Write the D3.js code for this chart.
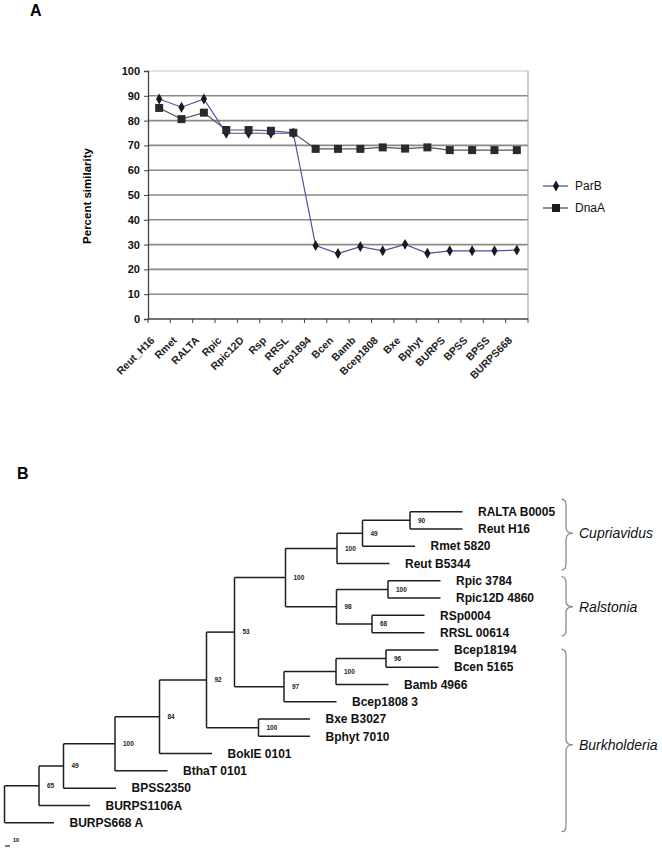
<!DOCTYPE html>
<html><head><meta charset="utf-8">
<script src="https://cdn.jsdelivr.net/npm/d3@7"></script>
<style>
html,body{margin:0;padding:0;background:#fff;}
svg{display:block;font-family:"Liberation Sans",Arial,sans-serif;}
</style></head>
<body>
<svg id="c" width="662" height="852"></svg>
<script>
// ---------- Panel A data ----------
const categories = ["Reut_H16","Rmet","RALTA","Rpic","Rpic12D","Rsp","RRSL","Bcep1894","Bcen","Bamb","Bcep1808","Bxe","Bphyt","BURPS","BPSS","BPSS ","BURPS668"];
const parB = [88.7,85.4,88.7,74.9,74.9,74.9,75.0,29.6,26.4,29.2,27.5,30.1,26.5,27.5,27.5,27.5,27.8];
const dnaA = [85.1,80.6,83.2,76.2,76.2,75.9,75.1,68.6,68.6,68.6,69.2,68.7,69.2,68.1,68.1,68.1,68.1];
const yTicks = [0,10,20,30,40,50,60,70,80,90,100];
const seriesNames = ["ParB","DnaA"];

// ---------- Panel B data (tree) ----------
const nodeIds =    ["root","n65","BURPS668 A","n49","BURPS1106A","n100a","BPSS2350","n84","BthaT 0101","n92","BokIE 0101","n53","n100f","Bxe B3027","Bphyt 7010","n100b","n97","n100c","n98","n49b","Reut B5344","n90","Rmet 5820","RALTA B0005","Reut H16","n100d","n68","Rpic 3784","Rpic12D 4860","RSp0004","RRSL 00614","n100e","Bcep1808 3","n96","Bamb 4966","Bcep18194","Bcen 5165"];
const parentIds =  ["","root","root","n65","n65","n49","n49","n100a","n100a","n84","n84","n92","n92","n100f","n100f","n53","n53","n100b","n100b","n100c","n100c","n49b","n49b","n90","n90","n98","n98","n100d","n100d","n68","n68","n97","n97","n100e","n100e","n96","n96"];
const branchLengths = [0,69,99,49,102,103,105,89,105,94,105,56,104,103,103,102,99,103,102,51,105,95,105,105,105,103,71,105,105,105,105,104,105,100,105,105,105];
const bootstraps = {n65:65,n49:49,n100a:100,n84:84,n92:92,n53:53,n100f:100,n100b:100,n97:97,n100c:100,n98:98,n49b:49,n90:90,n100d:100,n68:68,n100e:100,n96:96};
const cladeNames = ["Cupriavidus","Ralstonia","Burkholderia"];
const cladeFrom = [-0.72,3.76,7.96];
const cladeTo = [3.37,7.19,18.52];
const cladeTip = [1.25,5.5,13.5];
const scaleBarValue = 10;

const svg = d3.select("#c");

// ---------- Panel A ----------
svg.append("text").attr("x",30).attr("y",16).attr("font-size",16).attr("font-weight","bold").text("A");

const x = d3.scalePoint().domain(categories).range([148,528]).padding(0.5);
const y = d3.scaleLinear().domain([0,100]).range([319,71]);

const gA = svg.append("g");
gA.selectAll("line.grid").data(yTicks.filter(t=>t>0)).join("line")
  .attr("x1",148).attr("x2",528)
  .attr("y1",d=>y(d)).attr("y2",d=>y(d))
  .attr("stroke",d=>d===100?"#c4c4c4":"#8a8a8a").attr("stroke-width",d=>d===100?1.2:1.6);
gA.append("line").attr("x1",528).attr("x2",528).attr("y1",y(100)).attr("y2",y(0)).attr("stroke","#a8a8a8").attr("stroke-width",1.2);

const yAxis = gA.append("g").attr("transform","translate(148,0)")
  .call(d3.axisLeft(y).tickValues(yTicks).tickSize(4).tickPadding(4));
yAxis.selectAll("text").attr("font-size",11).attr("font-weight","bold").attr("fill","#111").attr("font-family","Liberation Sans, Arial");
yAxis.select(".domain").attr("stroke","#444").attr("stroke-width",1.3);
yAxis.selectAll(".tick line").attr("stroke","#444");

const step = x.step();
const xEdges = categories.map(c=>x(c)-step/2).concat([x(categories[categories.length-1])+step/2]);
gA.append("line").attr("x1",148).attr("x2",528).attr("y1",y(0)).attr("y2",y(0)).attr("stroke","#444").attr("stroke-width",1.3);
gA.selectAll("line.xt").data(xEdges).join("line").attr("class","xt")
  .attr("x1",d=>d).attr("x2",d=>d).attr("y1",y(0)).attr("y2",y(0)+4).attr("stroke","#444");
gA.selectAll("text.xl").data(categories).join("text").attr("class","xl")
  .attr("transform",d=>`translate(${x(d)-4},${y(0)+22}) rotate(-45)`)
  .attr("text-anchor","end")
  .attr("font-size",10.5).attr("font-weight","bold").attr("fill","#222")
  .text(d=>d.trim());

svg.append("text").attr("transform","translate(91,196) rotate(-90)")
  .attr("text-anchor","middle").attr("font-size",11.5).attr("font-weight","bold").text("Percent similarity");

const line = d3.line().x((d,i)=>x(categories[i])).y(d=>y(d));
const colors = ["#4e4ea8","#555555"];
gA.append("path").datum(dnaA).attr("d",line).attr("fill","none").attr("stroke",colors[1]).attr("stroke-width",1.2);
gA.append("path").datum(parB).attr("d",line).attr("fill","none").attr("stroke",colors[0]).attr("stroke-width",1.2);
const diamond = d3.symbol().type(d3.symbolDiamond).size(34);
const square = d3.symbol().type(d3.symbolSquare).size(64);
gA.selectAll("path.pm").data(parB).join("path").attr("class","pm")
  .attr("transform",(d,i)=>`translate(${x(categories[i])},${y(d)})`).attr("d",diamond).attr("fill","#1a1a1a");
gA.selectAll("path.dm").data(dnaA).join("path").attr("class","dm")
  .attr("transform",(d,i)=>`translate(${x(categories[i])},${y(d)})`).attr("d",square).attr("fill","#2a2a2a");

const lg = svg.append("g");
seriesNames.forEach((s,i)=>{
  const ly = 186 + i*22;
  lg.append("line").attr("x1",543).attr("x2",568).attr("y1",ly).attr("y2",ly).attr("stroke",colors[i]).attr("stroke-width",1.3);
  lg.append("path").attr("transform",`translate(556,${ly})`).attr("d",i===0?diamond:square).attr("fill","#1a1a1a");
  lg.append("text").attr("x",575).attr("y",ly).attr("dy","0.35em").attr("font-size",12).attr("fill","#111").text(s);
});

// ---------- Panel B ----------
svg.append("text").attr("x",17).attr("y",479).attr("font-size",16).attr("font-weight","bold").text("B");

const table = nodeIds.map((id,i)=>({id, parent: parentIds[i]||null, len: branchLengths[i]}));
const root = d3.stratify().id(d=>d.id).parentId(d=>d.parent)(table);
root.eachBefore(n=>{ n.dist = n.parent ? n.parent.dist + n.data.len : 0; });
const maxDist = d3.max(root.leaves(), l=>l.dist);
const xT = d3.scaleLinear().domain([0,maxDist]).range([4.5,4.5+maxDist*0.5]);
const leaves = root.leaves();
const yT = d3.scaleLinear().domain([0,leaves.length-1]).range([511.7,822.7]);
leaves.forEach((l,i)=>{ l.yy = yT(i); });
root.eachAfter(n=>{ if(n.children){ n.yy = (n.children[0].yy + n.children[n.children.length-1].yy)/2; } });

const gB = svg.append("g").attr("stroke","#1e1e1e").attr("stroke-width",1.5).attr("fill","none");
root.each(n=>{
  if(n.children){
    const cs = n.children;
    gB.append("line").attr("x1",xT(n.dist)).attr("x2",xT(n.dist)).attr("y1",cs[0].yy).attr("y2",cs[cs.length-1].yy);
    cs.forEach(c=>{
      gB.append("line").attr("x1",xT(n.dist)).attr("x2",xT(c.dist)).attr("y1",c.yy).attr("y2",c.yy);
    });
  }
});

root.descendants().filter(n=>bootstraps[n.id]!==undefined).forEach(n=>{
  svg.append("text").attr("x",xT(n.dist)+8).attr("y",n.yy).attr("dy","0.35em")
    .attr("font-size",6.5).attr("font-weight","bold").attr("fill","#222").text(bootstraps[n.id]);
});
leaves.forEach(l=>{
  svg.append("text").attr("x",xT(l.dist)+15.5).attr("y",l.yy).attr("dy","0.35em")
    .attr("font-size",12).attr("font-weight","bold").attr("fill","#111").text(l.id);
});

const yC = d3.scaleLinear().domain([0,leaves.length-1]).range([511.7,822.7]);
cladeNames.forEach((nm,i)=>{
  const top = yC(cladeFrom[i]), bot = yC(cladeTo[i]), tip = yC(cladeTip[i]);
  const x0 = 561.5, x1 = 566, x2 = 573, r = 6;
  const p = `M${x0},${top} Q${x1},${top} ${x1},${top+r} L${x1},${tip-r} Q${x1},${tip} ${x2},${tip} Q${x1},${tip} ${x1},${tip+r} L${x1},${bot-r} Q${x1},${bot} ${x0},${bot}`;
  svg.append("path").attr("d",p).attr("fill","none").attr("stroke","#8c8c8c").attr("stroke-width",1.3);
  svg.append("text").attr("x",579).attr("y",tip).attr("dy","0.35em").attr("font-size",14).attr("font-style","italic").attr("fill","#111").text(nm);
});

svg.append("line").attr("x1",xT(0)+0.5).attr("x2",xT(scaleBarValue)+0.5).attr("y1",846).attr("y2",846).attr("stroke","#222").attr("stroke-width",1.2);
svg.append("text").attr("x",13).attr("y",842).attr("font-size",5.5).attr("font-weight","bold").text(scaleBarValue);
</script>
</body></html>
